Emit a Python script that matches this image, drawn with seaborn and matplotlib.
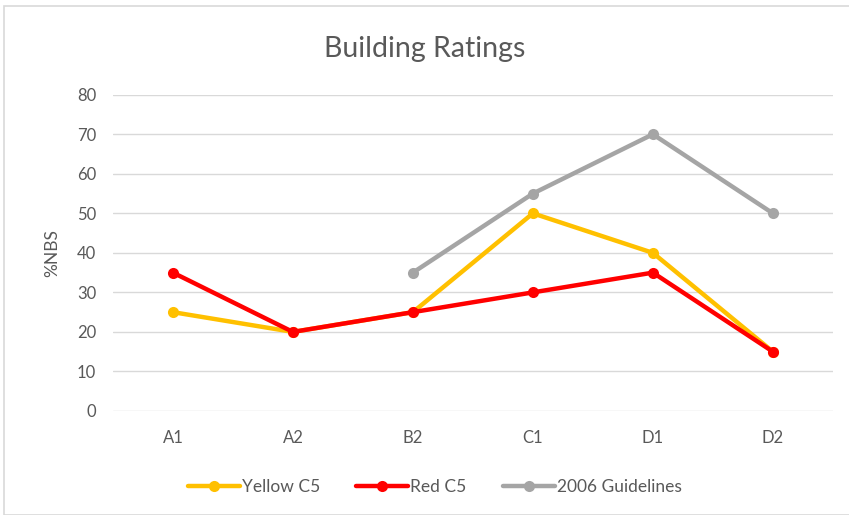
import pandas as pd
import numpy as np
import matplotlib.pyplot as plt
import seaborn as sns
from matplotlib.patches import Rectangle

## DATA
categories = ['A1', 'A2', 'B2', 'C1', 'D1', 'D2']
yellow_c5 = [25, 20, 25, 50, 40, 15]
red_c5 = [35, 20, 25, 30, 35, 15]
guidelines_2006 = [np.nan, np.nan, 35, 55, 70, 50]
series_names = ['Yellow C5', 'Red C5', '2006 Guidelines']
colors = ['#FFC000', '#FF0000', '#A5A5A5']
y_ticks = [0, 10, 20, 30, 40, 50, 60, 70, 80]

df = pd.DataFrame({'Category': categories,
                   'Yellow C5': yellow_c5,
                   'Red C5': red_c5,
                   '2006 Guidelines': guidelines_2006})
df_long = df.melt(id_vars='Category', var_name='Series', value_name='NBS').dropna()

sns.set_style('white')
plt.rcParams['font.family'] = ['Lato', 'DejaVu Sans']

fig = plt.figure(figsize=(8.49, 5.15), dpi=100)
ax = fig.add_axes([0.133, 0.202, 0.848, 0.614])

sns.lineplot(data=df_long, x='Category', y='NBS', hue='Series', hue_order=series_names,
             palette=colors, marker='o', markersize=8, markeredgewidth=0,
             linewidth=3.2, sort=False, ax=ax)

ax.set_xlim(-0.5, len(categories) - 0.5)
ax.set_ylim(0, 80)
ax.set_yticks(y_ticks)
ax.grid(axis='y', color='#D9D9D9', linewidth=1)
ax.set_axisbelow(True)
for s in ax.spines.values():
    s.set_visible(False)
ax.tick_params(axis='both', length=0, labelsize=12, labelcolor='#595959', pad=12)
ax.tick_params(axis='x', pad=14)
ax.set_xlabel('')
ax.set_ylabel('%NBS', fontsize=12.5, color='#595959', labelpad=12)

fig.text(0.5, 0.905, 'Building Ratings', ha='center', va='center', fontsize=20.5, color='#595959')

handles, labels = ax.get_legend_handles_labels()
ax.get_legend().remove()
fig.legend(handles, labels, loc='center', bbox_to_anchor=(0.512, 0.055), ncol=3, frameon=False,
           fontsize=12.5, labelcolor='#595959', handlelength=3.0, handletextpad=0.1,
           columnspacing=2.1)

fig.patches.append(Rectangle((0.005, 0.0), 1.0, 0.988, transform=fig.transFigure,
                             fill=False, edgecolor='#D9D9D9', linewidth=1.2))

fig.savefig('out.png', dpi=100)
